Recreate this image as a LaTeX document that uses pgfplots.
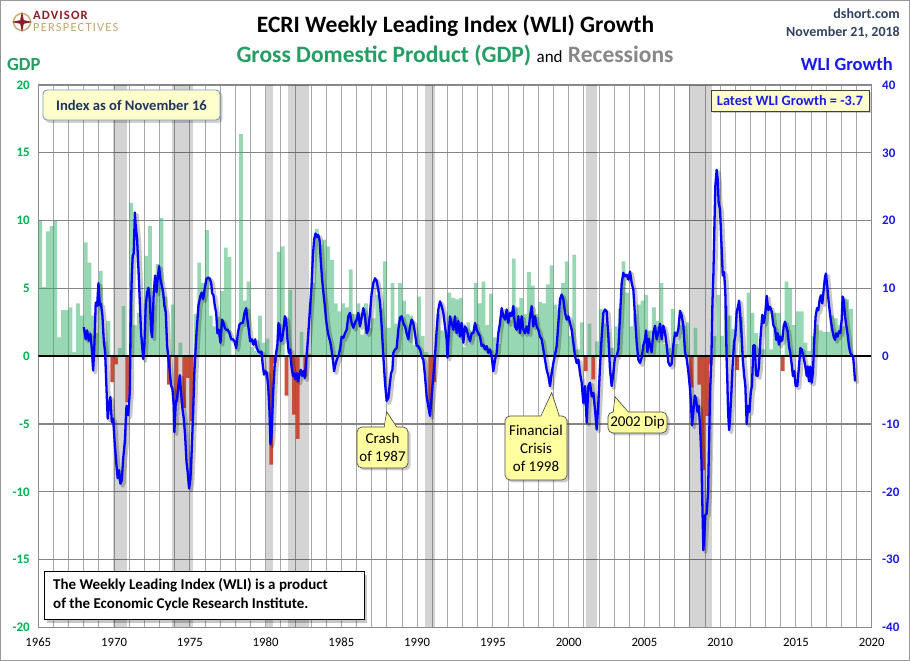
\documentclass[border=0pt]{standalone}
\usepackage{fontspec}
\setmainfont{Carlito}
\usepackage{pgfplots}
\usepackage{pgfplotstable}
\pgfplotsset{compat=1.18}

\definecolor{bargreen}{RGB}{40,172,98}
\definecolor{barred}{RGB}{198,62,42}
\definecolor{tickgreen}{RGB}{0,176,80}
\definecolor{titlegreen}{RGB}{36,158,98}
\definecolor{wliblue}{RGB}{0,0,255}
\definecolor{labelblue}{RGB}{25,25,235}
\definecolor{navy}{RGB}{31,52,96}
\definecolor{slate}{RGB}{48,66,98}
\definecolor{paleyellow}{RGB}{255,255,204}
\definecolor{calloutyellow}{RGB}{255,255,160}
\definecolor{boxborder}{RGB}{120,150,200}
\definecolor{apred}{RGB}{140,28,36}
\definecolor{aptan}{RGB}{196,164,104}

% Real GDP growth, quarterly, annualized (%)
\pgfplotstableread{
x y
1965.125 10.0
1965.375 5.1
1965.625 9.2
1965.875 9.6
1966.125 10.0
1966.375 1.4
1966.625 3.4
1966.875 3.4
1967.125 3.6
1967.375 0.3
1967.625 3.9
1967.875 3.0
1968.125 8.4
1968.375 6.9
1968.625 3.0
1968.875 1.7
1969.125 6.3
1969.375 1.1
1969.625 2.6
1969.875 -1.9
1970.125 -0.6
1970.375 0.6
1970.625 3.7
1970.875 -3.4
1971.125 11.3
1971.375 2.3
1971.625 3.2
1971.875 1.1
1972.125 7.4
1972.375 9.6
1972.625 3.8
1972.875 6.8
1973.125 10.2
1973.375 4.4
1973.625 -2.1
1973.875 3.8
1974.125 -3.4
1974.375 1.0
1974.625 -3.8
1974.875 -1.6
1975.125 -4.8
1975.375 3.1
1975.625 6.9
1975.875 5.4
1976.125 9.3
1976.375 3.0
1976.625 2.2
1976.875 2.9
1977.125 4.8
1977.375 8.0
1977.625 7.3
1977.875 0.0
1978.125 1.3
1978.375 16.4
1978.625 4.1
1978.875 5.5
1979.125 0.7
1979.375 0.4
1979.625 3.0
1979.875 1.0
1980.125 1.3
1980.375 -8.0
1980.625 -0.5
1980.875 7.7
1981.125 8.1
1981.375 -2.9
1981.625 4.9
1981.875 -4.3
1982.125 -6.1
1982.375 1.8
1982.625 -1.5
1982.875 0.2
1983.125 5.4
1983.375 9.4
1983.625 8.2
1983.875 8.6
1984.125 8.1
1984.375 7.1
1984.625 3.9
1984.875 3.3
1985.125 3.9
1985.375 3.6
1985.625 6.4
1985.875 3.1
1986.125 3.9
1986.375 1.6
1986.625 3.9
1986.875 2.1
1987.125 2.8
1987.375 4.5
1987.625 3.5
1987.875 7.0
1988.125 2.1
1988.375 5.4
1988.625 2.4
1988.875 5.4
1989.125 4.1
1989.375 3.1
1989.625 3.0
1989.875 0.8
1990.125 4.4
1990.375 1.5
1990.625 0.3
1990.875 -3.6
1991.125 -1.9
1991.375 3.1
1991.625 1.9
1991.875 1.8
1992.125 4.7
1992.375 4.3
1992.625 4.2
1992.875 4.3
1993.125 0.7
1993.375 2.5
1993.625 1.9
1993.875 5.4
1994.125 3.9
1994.375 5.5
1994.625 2.3
1994.875 4.6
1995.125 1.4
1995.375 0.9
1995.625 3.2
1995.875 2.9
1996.125 2.7
1996.375 7.2
1996.625 3.6
1996.875 4.3
1997.125 3.1
1997.375 6.2
1997.625 5.2
1997.875 3.1
1998.125 4.0
1998.375 3.9
1998.625 5.3
1998.875 6.7
1999.125 3.8
1999.375 3.4
1999.625 5.4
1999.875 7.0
2000.125 1.5
2000.375 7.5
2000.625 0.5
2000.875 2.5
2001.125 -1.1
2001.375 2.4
2001.625 -1.7
2001.875 1.1
2002.125 3.5
2002.375 2.4
2002.625 1.8
2002.875 0.6
2003.125 2.2
2003.375 3.5
2003.625 7.0
2003.875 4.7
2004.125 2.2
2004.375 3.1
2004.625 3.8
2004.875 4.1
2005.125 4.5
2005.375 1.9
2005.625 3.6
2005.875 2.6
2006.125 5.4
2006.375 0.9
2006.625 0.6
2006.875 3.5
2007.125 0.9
2007.375 2.3
2007.625 2.2
2007.875 2.5
2008.125 -2.3
2008.375 2.1
2008.625 -2.1
2008.875 -8.4
2009.125 -4.4
2009.375 -0.6
2009.625 1.5
2009.875 4.5
2010.125 1.5
2010.375 3.7
2010.625 3.0
2010.875 2.0
2011.125 -1.0
2011.375 2.9
2011.625 -0.1
2011.875 4.7
2012.125 3.2
2012.375 1.7
2012.625 0.5
2012.875 0.5
2013.125 3.6
2013.375 0.5
2013.625 3.2
2013.875 3.2
2014.125 -1.1
2014.375 5.5
2014.625 5.0
2014.875 2.3
2015.125 3.3
2015.375 3.3
2015.625 1.0
2015.875 0.4
2016.125 1.5
2016.375 2.3
2016.625 1.9
2016.875 1.8
2017.125 1.8
2017.375 3.0
2017.625 2.8
2017.875 2.3
2018.125 2.2
2018.375 4.2
2018.625 3.5
}\gdptable

% ECRI WLI growth (%)
\pgfplotstableread{
x y
1968.00 4.3
1968.13 2.5
1968.22 3.8
1968.33 2.3
1968.44 3.3
1968.53 1.1
1968.62 -2.1
1968.70 1.6
1968.79 7.9
1968.88 7.4
1968.97 10.8
1969.06 7.5
1969.14 7.7
1969.23 6.0
1969.32 2.3
1969.41 0.6
1969.50 -4.8
1969.58 -9.2
1969.67 -7.2
1969.76 -6.0
1969.85 -9.7
1969.94 -9.2
1970.05 -13.1
1970.16 -16.1
1970.24 -18.0
1970.33 -16.8
1970.42 -18.8
1970.51 -18.3
1970.60 -15.1
1970.71 -12.6
1970.82 -7.3
1970.93 -8.7
1971.04 -5.3
1971.10 6.0
1971.17 11.9
1971.23 14.8
1971.30 15.2
1971.37 21.2
1971.43 19.2
1971.52 17.3
1971.61 12.8
1971.70 7.9
1971.78 3.5
1971.92 -0.4
1972.00 1.6
1972.09 7.5
1972.18 9.4
1972.27 10.1
1972.36 8.4
1972.44 4.0
1972.51 2.8
1972.62 9.4
1972.71 11.9
1972.80 9.4
1972.88 11.4
1972.97 13.3
1973.06 11.4
1973.15 10.4
1973.24 9.4
1973.32 7.5
1973.41 6.5
1973.50 1.6
1973.59 -0.4
1973.68 -2.3
1973.76 -4.3
1973.85 -4.8
1973.94 -7.3
1973.98 -11.2
1974.07 -6.8
1974.16 -6.3
1974.25 -4.3
1974.34 -2.8
1974.42 -5.3
1974.51 -7.7
1974.60 -9.2
1974.69 -11.7
1974.78 -15.6
1974.86 -17.1
1974.95 -19.5
1975.04 -18.1
1975.13 -13.6
1975.22 -8.2
1975.30 -2.4
1975.44 3.5
1975.57 7.5
1975.70 8.9
1975.79 9.4
1975.88 8.4
1975.96 9.7
1976.10 11.4
1976.21 11.6
1976.30 11.5
1976.41 10.8
1976.47 9.3
1976.56 9.0
1976.65 7.4
1976.74 6.4
1976.82 3.4
1976.91 3.9
1977.02 2.0
1977.13 5.4
1977.22 4.9
1977.31 4.2
1977.40 3.9
1977.51 3.9
1977.62 3.4
1977.73 2.5
1977.84 2.5
1977.95 2.2
1978.06 1.2
1978.17 3.4
1978.28 4.7
1978.39 4.9
1978.50 4.9
1978.61 6.4
1978.72 7.1
1978.80 5.4
1978.89 3.9
1978.98 2.2
1979.09 2.5
1979.20 1.7
1979.31 2.5
1979.42 1.2
1979.53 0.7
1979.64 0.5
1979.73 0.7
1979.82 -1.5
1979.90 -2.7
1979.99 -2.2
1980.08 -2.5
1980.17 -4.4
1980.26 -8.3
1980.32 -13.0
1980.39 -11.8
1980.45 -8.3
1980.52 -4.4
1980.61 -1.0
1980.70 0.5
1980.78 1.7
1980.85 4.9
1980.92 4.4
1981.00 2.2
1981.09 2.5
1981.18 3.9
1981.27 5.9
1981.36 5.4
1981.44 2.5
1981.53 0.5
1981.62 1.0
1981.71 -1.5
1981.80 -2.9
1981.88 -2.5
1981.97 -3.4
1982.06 -2.5
1982.15 -3.7
1982.24 -2.5
1982.32 -2.0
1982.41 -2.9
1982.50 -2.2
1982.59 -3.2
1982.68 -0.5
1982.76 1.5
1982.85 4.4
1982.94 7.4
1983.03 10.3
1983.12 14.7
1983.20 17.2
1983.29 18.1
1983.38 17.6
1983.47 17.9
1983.56 17.2
1983.64 14.2
1983.73 11.3
1983.82 9.3
1983.91 7.4
1983.99 5.4
1984.08 3.9
1984.17 2.9
1984.26 2.2
1984.35 1.0
1984.44 -0.5
1984.52 -2.2
1984.61 -1.2
1984.70 -0.5
1984.80 0.0
1984.91 1.0
1985.02 2.9
1985.13 2.7
1985.24 3.4
1985.35 3.9
1985.46 5.9
1985.57 6.4
1985.68 4.9
1985.79 4.2
1985.90 4.9
1986.01 5.4
1986.12 6.4
1986.23 4.4
1986.34 5.7
1986.45 7.1
1986.56 5.9
1986.67 3.4
1986.78 3.9
1986.89 6.4
1987.00 9.3
1987.11 10.8
1987.22 11.5
1987.33 11.1
1987.44 9.8
1987.55 7.9
1987.66 4.4
1987.77 0.0
1987.88 -3.9
1987.99 -6.6
1988.10 -6.1
1988.21 -3.9
1988.28 -2.5
1988.37 -2.0
1988.43 0.5
1988.54 1.0
1988.65 1.2
1988.76 3.9
1988.87 5.7
1988.98 5.9
1989.09 4.9
1989.20 4.4
1989.31 3.4
1989.42 2.5
1989.53 4.4
1989.64 5.4
1989.75 4.9
1989.86 3.4
1989.97 1.5
1990.08 1.5
1990.19 1.0
1990.30 0.0
1990.41 -0.5
1990.52 -2.9
1990.63 -5.9
1990.74 -7.4
1990.85 -8.8
1990.96 -5.9
1991.07 -2.9
1991.18 0.0
1991.29 3.9
1991.40 6.9
1991.51 8.1
1991.62 7.4
1991.73 6.4
1991.84 4.4
1991.95 2.5
1992.00 -0.2
1992.08 2.9
1992.17 5.9
1992.28 4.9
1992.39 3.9
1992.50 5.9
1992.61 3.4
1992.72 5.2
1992.83 2.9
1992.94 4.9
1993.05 2.0
1993.16 4.4
1993.27 3.9
1993.38 2.9
1993.49 2.2
1993.60 3.4
1993.71 3.4
1993.82 4.9
1993.93 3.9
1994.04 3.4
1994.15 2.9
1994.26 1.5
1994.37 1.7
1994.48 1.0
1994.59 1.5
1994.70 0.5
1994.81 1.0
1994.92 0.0
1995.03 -2.2
1995.14 -0.5
1995.25 0.5
1995.36 3.4
1995.47 4.9
1995.58 7.1
1995.69 5.9
1995.80 5.4
1995.91 6.9
1996.02 4.9
1996.13 6.4
1996.24 5.9
1996.35 7.4
1996.46 4.4
1996.57 3.9
1996.68 5.9
1996.79 3.4
1996.90 5.9
1997.01 3.9
1997.12 3.4
1997.23 4.4
1997.34 3.4
1997.45 5.9
1997.56 7.4
1997.67 4.4
1997.78 5.9
1997.89 4.4
1998.00 3.9
1998.11 2.9
1998.22 2.5
1998.33 1.0
1998.44 -0.5
1998.55 -2.0
1998.66 -2.9
1998.77 -4.4
1998.88 -2.5
1998.99 -1.0
1999.10 0.2
1999.21 1.5
1999.32 4.9
1999.43 8.4
1999.54 9.1
1999.65 8.4
1999.76 6.4
1999.87 5.4
1999.98 5.9
2000.09 4.9
2000.20 3.9
2000.31 2.0
2000.42 0.0
2000.53 -1.0
2000.64 -0.5
2000.75 -2.5
2000.86 -3.9
2000.97 -6.9
2001.08 -4.4
2001.19 -9.8
2001.30 -4.4
2001.41 -3.9
2001.52 -5.9
2001.63 -5.4
2001.74 -7.9
2001.85 -10.8
2001.96 -6.9
2002.07 -1.5
2002.18 2.9
2002.29 6.4
2002.40 6.9
2002.51 6.6
2002.62 2.9
2002.73 -2.0
2002.84 -4.4
2002.95 -2.5
2003.06 0.0
2003.17 0.0
2003.28 1.0
2003.39 5.9
2003.50 10.8
2003.61 12.3
2003.72 11.8
2003.83 12.0
2003.94 11.3
2004.05 12.5
2004.16 10.8
2004.27 9.8
2004.38 5.9
2004.49 2.0
2004.60 -0.5
2004.71 -1.0
2004.82 -0.2
2004.93 1.6
2005.02 2.3
2005.11 3.8
2005.20 0.6
2005.28 2.6
2005.37 1.6
2005.48 0.6
2005.59 3.5
2005.70 4.5
2005.81 2.5
2005.92 3.5
2006.03 4.8
2006.14 2.5
2006.25 4.5
2006.36 3.5
2006.47 1.6
2006.58 -0.9
2006.69 -1.4
2006.80 -1.1
2006.91 1.6
2007.02 3.5
2007.13 3.0
2007.24 4.0
2007.35 6.7
2007.46 6.0
2007.57 4.5
2007.68 0.6
2007.79 -0.4
2007.90 -2.3
2008.01 -4.8
2008.08 -7.3
2008.14 -10.2
2008.23 -8.2
2008.32 -5.8
2008.41 -6.3
2008.50 -8.2
2008.58 -7.3
2008.67 -10.2
2008.76 -15.1
2008.83 -22.4
2008.89 -28.6
2008.96 -26.4
2009.02 -23.4
2009.11 -23.2
2009.20 -20.0
2009.27 -12.6
2009.33 -5.3
2009.42 -0.4
2009.49 7.9
2009.55 11.9
2009.62 19.2
2009.68 25.1
2009.77 27.5
2009.84 26.0
2009.90 22.6
2009.99 21.7
2010.08 16.8
2010.17 11.9
2010.26 12.4
2010.34 9.4
2010.39 4.0
2010.43 -1.0
2010.47 -3.3
2010.52 -8.2
2010.59 -10.9
2010.65 -9.2
2010.74 -5.3
2010.83 -0.9
2010.92 2.1
2011.00 3.0
2011.09 6.5
2011.18 7.4
2011.25 8.2
2011.31 6.5
2011.40 3.5
2011.49 -0.4
2011.58 -2.8
2011.66 -4.3
2011.75 -10.0
2011.84 -7.3
2011.93 -8.2
2012.02 -5.3
2012.10 -4.3
2012.19 1.6
2012.28 1.6
2012.37 -2.8
2012.47 -2.9
2012.56 -1.5
2012.65 2.4
2012.78 6.1
2012.87 4.9
2012.96 5.9
2013.07 8.9
2013.18 6.8
2013.29 7.3
2013.40 6.6
2013.51 4.6
2013.62 4.1
2013.70 2.4
2013.79 3.4
2013.88 1.7
2013.95 2.9
2014.01 2.2
2014.10 2.4
2014.19 4.4
2014.28 5.1
2014.36 4.4
2014.45 3.7
2014.54 1.5
2014.63 0.5
2014.72 -1.2
2014.80 -2.9
2014.89 -2.2
2014.98 -4.4
2015.09 -4.4
2015.20 -1.5
2015.29 1.2
2015.38 1.0
2015.49 0.0
2015.60 -1.2
2015.71 -2.9
2015.77 -1.5
2015.86 -3.7
2015.95 -1.5
2016.04 -3.9
2016.12 -2.4
2016.21 2.4
2016.30 5.9
2016.39 7.1
2016.48 6.8
2016.56 8.3
2016.65 9.0
2016.74 7.8
2016.83 9.8
2016.92 11.7
2016.98 12.2
2017.07 10.2
2017.14 8.5
2017.22 6.8
2017.31 5.1
2017.40 3.9
2017.49 2.9
2017.58 2.4
2017.66 3.4
2017.75 2.9
2017.84 3.7
2017.93 3.4
2018.02 5.4
2018.08 8.8
2018.15 8.3
2018.24 5.9
2018.32 4.6
2018.41 3.2
2018.50 1.5
2018.59 0.5
2018.68 0.2
2018.77 0.0
2018.83 -1.5
2018.90 -3.7
}\wlitable

\begin{document}
\begin{tikzpicture}[x=1pt,y=1pt]
\useasboundingbox (0,0) rectangle (910,661);
\fill[white] (0,0) rectangle (910,661);

% ---------- left axis: GDP bars, recessions, grid ----------
\begin{axis}[
  at={(38.3pt,33.5pt)}, anchor=south west,
  scale only axis, width=833.4pt, height=542.5pt,
  xmin=1965, xmax=2020, ymin=-20, ymax=20,
  xtick={1965,1970,1975,1980,1985,1990,1995,2000,2005,2010,2015,2020},
  xticklabels={1965,1970,1975,1980,1985,1990,1995,2000,2005,2010,2015,2020},
  minor x tick num=4,
  ytick={-20,-15,-10,-5,0,5,10,15,20},
  yticklabels={-20,-15,-10,-5,0,5,10,15,20},
  xmajorgrids, xminorgrids, ymajorgrids,
  major grid style={draw=black!34, line width=0.9pt},
  minor grid style={draw=black!34, line width=0.9pt},
  every axis y grid/.append style={draw=black!48, line width=1.2pt},
  major tick length=0pt, minor tick length=0pt,
  axis line style={draw=black!45, line width=0.9pt},
  xticklabel style={font=\fontsize{12.7}{15}\selectfont, text=black, yshift=-7pt},
  yticklabel style={font=\fontsize{13}{15}\selectfont\bfseries, text=tickgreen, xshift=-5pt},
]
% recessions
\addplot[fill=black, fill opacity=0.17, draw=none] coordinates {(1969.92,-20) (1969.92,20) (1970.87,20) (1970.87,-20)};
\addplot[fill=black, fill opacity=0.17, draw=none] coordinates {(1973.83,-20) (1973.83,20) (1975.20,20) (1975.20,-20)};
\addplot[fill=black, fill opacity=0.17, draw=none] coordinates {(1980.00,-20) (1980.00,20) (1980.50,20) (1980.50,-20)};
\addplot[fill=black, fill opacity=0.17, draw=none] coordinates {(1981.50,-20) (1981.50,20) (1982.87,20) (1982.87,-20)};
\addplot[fill=black, fill opacity=0.17, draw=none] coordinates {(1990.50,-20) (1990.50,20) (1991.20,20) (1991.20,-20)};
\addplot[fill=black, fill opacity=0.17, draw=none] coordinates {(2001.17,-20) (2001.17,20) (2001.87,20) (2001.87,-20)};
\addplot[fill=black, fill opacity=0.17, draw=none] coordinates {(2007.92,-20) (2007.92,20) (2009.46,20) (2009.46,-20)};
% GDP bars
\addplot[ybar, bar width=0.25, bar shift=0pt, fill=bargreen, fill opacity=0.48, draw=none,
  restrict y to domain=0:50] table[x=x,y=y]{\gdptable};
\addplot[ybar, bar width=0.25, bar shift=0pt, fill=barred, fill opacity=0.9, draw=none,
  restrict y to domain=-50:-0.05] table[x=x,y=y]{\gdptable};
% zero line
\addplot[black, line width=1.8pt] coordinates {(1965,0) (2020,0)};
\end{axis}

% ---------- right axis: WLI growth ----------
\begin{axis}[
  at={(38.3pt,33.5pt)}, anchor=south west,
  scale only axis, width=833.4pt, height=542.5pt,
  xmin=1965, xmax=2020, ymin=-40, ymax=40,
  axis y line*=right, axis x line=none,
  ytick={-40,-30,-20,-10,0,10,20,30,40},
  yticklabels={-40,-30,-20,-10,0,10,20,30,40},
  major tick length=0pt,
  axis line style={draw=black!45, line width=0.9pt},
  yticklabel style={font=\fontsize{13}{15}\selectfont\bfseries, text=labelblue, xshift=7pt},
]
\addplot[black, opacity=0.22, line width=3.6pt, line join=round, xshift=2.2pt, yshift=-2.2pt] table[x=x,y=y]{\wlitable};
\addplot[wliblue, line width=2.3pt, line join=round] table[x=x,y=y]{\wlitable};
\end{axis}

% ---------- titles and labels ----------
\node[anchor=base, font=\fontsize{23.5}{28}\selectfont\bfseries] at (455.5,628) {ECRI Weekly Leading Index (WLI) Growth};
\node[anchor=base, font=\fontsize{23.5}{28}\selectfont\bfseries] at (455,598.5)
  {\textcolor{titlegreen}{Gross Domestic Product (GDP)} {\fontsize{17}{20}\selectfont\mdseries and} \textcolor{black!47}{Recessions}};
\node[anchor=base west, font=\fontsize{18.5}{22}\selectfont\bfseries, text=titlegreen, inner sep=0pt] at (7,590) {GDP};
\node[anchor=base east, font=\fontsize{18.5}{22}\selectfont\bfseries, text=labelblue, inner sep=0pt] at (893,590) {WLI Growth};
\node[anchor=base east, font=\fontsize{14}{16}\selectfont\bfseries, text=slate, inner sep=0pt] at (900,642) {dshort.com};
\node[anchor=base east, font=\fontsize{14}{16}\selectfont\bfseries, text=slate, inner sep=0pt] at (900,624.5) {November 21, 2018};

% logo
\draw[aptan, line width=1.3pt] (22,639) circle (8.5);
\fill[apred] (22,649.5) -- (23.8,640.8) -- (32.5,639) -- (23.8,637.2) -- (22,628.5) -- (20.2,637.2) -- (11.5,639) -- (20.2,640.8) -- cycle;
\node[anchor=base west, inner sep=0pt, font=\fontsize{12.6}{13}\selectfont\bfseries\addfontfeatures{LetterSpace=9}, text=apred] at (33,641.5) {ADVISOR};
\node[anchor=base west, inner sep=0pt, font=\fontsize{12.4}{13}\selectfont\addfontfeatures{LetterSpace=10}, text=aptan] at (33,629.5) {PERSPECTIVES};

% index box
\fill[black, opacity=0.18, rounded corners=4pt] (45.5,538) rectangle (222.5,569);
\draw[boxborder, fill=paleyellow, line width=0.9pt, rounded corners=4pt] (43,541) rectangle (220,571);
\node[font=\fontsize{14.6}{17}\selectfont\bfseries, text=navy] at (131.5,556) {Index as of November 16};

% latest box
\fill[black, opacity=0.2] (713,548) rectangle (871,569);
\draw[black!75, fill=paleyellow, line width=0.8pt] (711,550) rectangle (869,571);
\node[font=\fontsize{14.3}{17}\selectfont\bfseries, text=labelblue] at (790,560.5) {Latest WLI Growth = -3.7};

% bottom note box
\fill[black, opacity=0.22] (47,38) rectangle (367,86);
\draw[black, fill=white, line width=1pt] (44,41) rectangle (364,89);
\node[anchor=base west, font=\fontsize{15}{18}\selectfont\bfseries, inner sep=0pt] at (53,71) {The Weekly Leading Index (WLI) is a product};
\node[anchor=base west, font=\fontsize{15}{18}\selectfont\bfseries, inner sep=0pt] at (53,52) {of the Economic Cycle Research Institute.};

% callout: Crash of 1987
\fill[black, opacity=0.2, rounded corners=5pt] (359.5,190.5) rectangle (410.5,231.5);
\draw[black!70, fill=calloutyellow, line width=0.7pt] (384,232) -- (386.7,249.3) -- (398,232) -- cycle;
\draw[black!70, fill=calloutyellow, line width=0.7pt, rounded corners=5pt] (357,193) rectangle (408,234);
\fill[calloutyellow] (384.6,233.2) -- (386.4,245) -- (396.6,233.2) -- cycle;
\node[anchor=base, font=\fontsize{15}{18}\selectfont, inner sep=0pt] at (382.5,217.7) {Crash};
\node[anchor=base, font=\fontsize{15}{18}\selectfont, inner sep=0pt] at (382.5,199.3) {of 1987};

% callout: Financial Crisis of 1998
\fill[black, opacity=0.2, rounded corners=5pt] (507.5,178.5) rectangle (569.5,242.5);
\draw[black!70, fill=calloutyellow, line width=0.7pt] (540,243) -- (551.7,268.3) -- (560,243) -- cycle;
\draw[black!70, fill=calloutyellow, line width=0.7pt, rounded corners=5pt] (505,181) rectangle (567,245);
\fill[calloutyellow] (541,244.2) -- (551.3,265) -- (558.6,244.2) -- cycle;
\node[anchor=base, font=\fontsize{15}{18}\selectfont, inner sep=0pt] at (536,225.3) {Financial};
\node[anchor=base, font=\fontsize{15}{18}\selectfont, inner sep=0pt] at (536,207) {Crisis};
\node[anchor=base, font=\fontsize{15}{18}\selectfont, inner sep=0pt] at (536,189.3) {of 1998};

% callout: 2002 Dip
\fill[black, opacity=0.2, rounded corners=5pt] (610.5,225.5) rectangle (669.5,246.5);
\draw[black!70, fill=calloutyellow, line width=0.7pt] (613,247) -- (615,264.3) -- (630,247) -- cycle;
\draw[black!70, fill=calloutyellow, line width=0.7pt, rounded corners=5pt] (608,228) rectangle (667,249);
\fill[calloutyellow] (614,248.2) -- (615.2,261) -- (628.4,248.2) -- cycle;
\node[anchor=base, font=\fontsize{15}{18}\selectfont, inner sep=0pt] at (637.5,234.3) {2002 Dip};

% outer frame
\draw[black!40, line width=1pt] (0.5,0.5) rectangle (909.5,660.5);
\end{tikzpicture}
\end{document}
